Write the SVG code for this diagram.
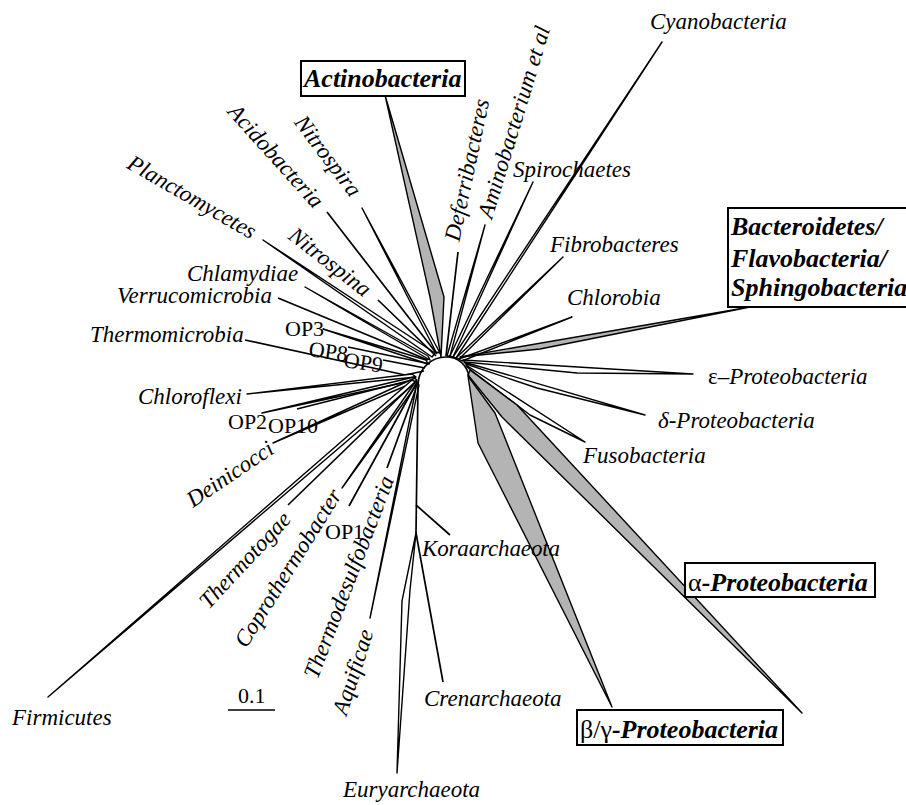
<svg xmlns="http://www.w3.org/2000/svg" width="906" height="805" viewBox="0 0 906 805" font-family="'Liberation Serif', 'DejaVu Serif', serif">
<style>
text{font-family:'Liberation Serif','DejaVu Serif',serif;fill:#000}
.i{font-style:italic;font-size:23px}
.r{font-size:22px}
.b{font-style:italic;font-weight:bold;font-size:26px}
.c{text-anchor:middle;dominant-baseline:central}
.l{fill:none;stroke:#000;stroke-width:1.7;stroke-linejoin:round}
.w{fill:#fff;stroke:#000;stroke-width:1.4;stroke-linejoin:round}
.g{fill:#b4b4b4;stroke:#000;stroke-width:1.4;stroke-linejoin:round}
.box{fill:#fff;stroke:#000;stroke-width:2}
</style>
<rect width="906" height="805" fill="#fff"/>
<g id="connectors">
<polygon class="w" points="362,208 436,352 440,353"/>
<line class="l" x1="327" y1="212" x2="437" y2="354"/>
<polygon class="w" points="263,240 432,357 435,353"/>
<line class="l" x1="378" y1="300" x2="436" y2="356"/>
<polygon class="w" points="305,287 428,356 430,360"/>
<line class="l" x1="278" y1="298" x2="428" y2="360"/>
<polygon class="w" points="323,329 426,360 428,364"/>
<line class="l" x1="348" y1="347" x2="430" y2="364"/>
<line class="l" x1="383" y1="360" x2="425" y2="368"/>
<polyline class="l" points="245,340 405,375 424,371"/>
<polygon class="w" points="247,394 412,374 416,377"/>
<polygon class="w" points="262,413 414,377 416,380"/>
<line class="l" x1="297" y1="409" x2="416" y2="379"/>
<polygon class="w" points="273,443 415,378 417,381"/>
<polygon class="w" points="48,697 412,380 416,382"/>
<line class="l" x1="288" y1="505" x2="416" y2="381"/>
<polygon class="w" points="342,488 416,381 418,383"/>
<line class="l" x1="349" y1="506" x2="417" y2="382"/>
<line class="l" x1="387" y1="468" x2="418" y2="383"/>
<polygon class="w" points="370,618 417,383 419,385"/>
<polygon class="g" points="385,95 444,297 441,357 430,297"/>
<line class="l" x1="458" y1="252" x2="446" y2="356"/>
<polygon class="w" points="485,225 447,356 450,356"/>
<polygon class="w" points="533,182 450,356 453,357"/>
<polygon class="w" points="662,42 453,357 456,358"/>
<polygon class="w" points="563,257 456,358 459,359"/>
<polygon class="w" points="572,317 459,359 462,361"/>
<polygon class="g" points="460,357 750,307 540,349"/>
<polygon class="w" points="463,360 693,374 577,373 465,362"/>
<polygon class="w" points="464,362 645,415 537,388 466,364"/>
<polygon class="w" points="466,365 585,442 530,415 467,367"/>
<polygon class="g" points="470,370 517,405 802,713 502,417 468,375"/>
<polygon class="g" points="468,376 495,413 612,707 478,443"/>
<path class="l" d="M416,533 L418,385 C418,368 432,357 446,357 C458,357 468,365 469,378"/>
<line class="l" x1="416" y1="505" x2="450" y2="535"/>
<line class="l" x1="416" y1="533" x2="443" y2="682"/>
<polygon class="w" points="416,533 402,601 397,773 410,590"/>
<line class="l" x1="228" y1="710" x2="275" y2="710"/>
</g>
<g id="n-actinobacteria"><rect class="box" x="301" y="61" width="164" height="35"/><text class="b" x="304" y="87">Actinobacteria</text></g>
<g id="n-bacteroidetes"><rect class="box" x="728" y="208" width="182" height="99"/><text class="b" x="731" y="235">Bacteroidetes/</text><text class="b" x="731" y="267">Flavobacteria/</text><text class="b" x="731" y="296">Sphingobacteria</text></g>
<g id="n-alpha"><rect class="box" x="685" y="563" width="190" height="34"/><text class="b" x="688" y="591"><tspan font-style="normal" font-weight="normal">α</tspan>-Proteobacteria</text></g>
<g id="n-betagamma"><rect class="box" x="577" y="710" width="206" height="35"/><text class="b" x="580" y="738"><tspan font-style="normal" font-weight="normal">β/γ</tspan>-Proteobacteria</text></g>
<g id="n-cyanobacteria"><text class="i" x="650" y="29">Cyanobacteria</text></g>
<g id="n-spirochaetes"><text class="i" x="513" y="177">Spirochaetes</text></g>
<g id="n-fibrobacteres"><text class="i" x="550" y="252">Fibrobacteres</text></g>
<g id="n-chlorobia"><text class="i" x="567" y="305">Chlorobia</text></g>
<g id="n-epsilon"><text class="i" x="708" y="384"><tspan font-style="normal">ε</tspan>–Proteobacteria</text></g>
<g id="n-delta"><text class="i" x="658" y="428">δ-Proteobacteria</text></g>
<g id="n-fusobacteria"><text class="i" x="583" y="463">Fusobacteria</text></g>
<g id="n-koraarchaeota"><text class="i" x="422" y="556" textLength="138" lengthAdjust="spacing">Koraarchaeota</text></g>
<g id="n-crenarchaeota"><text class="i" x="424" y="706">Crenarchaeota</text></g>
<g id="n-euryarchaeota"><text class="i" x="343" y="797">Euryarchaeota</text></g>
<g id="n-firmicutes"><text class="i" x="12" y="725">Firmicutes</text></g>
<g id="n-scale"><text class="r" x="238" y="703">0.1</text></g>
<g id="n-chlamydiae"><text class="i" x="187" y="281">Chlamydiae</text></g>
<g id="n-verrucomicrobia"><text class="i" x="117" y="303">Verrucomicrobia</text></g>
<g id="n-thermomicrobia"><text class="i" x="90" y="342">Thermomicrobia</text></g>
<g id="n-chloroflexi"><text class="i" x="138" y="404">Chloroflexi</text></g>
<g id="n-op3"><text class="r" x="285" y="336">OP3</text></g>
<g id="n-op8"><text class="r" transform="translate(308,356) rotate(8)">OP8</text></g>
<g id="n-op9"><text class="r" transform="translate(343,367) rotate(8)">OP9</text></g>
<g id="n-op2"><text class="r" x="228" y="429">OP2</text></g>
<g id="n-op10"><text class="r" x="268" y="433">OP10</text></g>
<g id="n-op1"><text class="r" x="325" y="539">OP1</text></g>
<g id="n-nitrospira"><text class="i c" transform="translate(328,156) rotate(53)">Nitrospira</text></g>
<g id="n-acidobacteria"><text class="i c" transform="translate(276,156) rotate(48)">Acidobacteria</text></g>
<g id="n-planctomycetes"><text class="i c" transform="translate(192,197) rotate(30)">Planctomycetes</text></g>
<g id="n-nitrospina"><text class="i c" transform="translate(330,262) rotate(38)">Nitrospina</text></g>
<g id="n-deinicocci"><text class="i c" transform="translate(230,474) rotate(-34)">Deinicocci</text></g>
<g id="n-thermotogae"><text class="i c" transform="translate(245,560) rotate(-47)">Thermotogae</text></g>
<g id="n-coprothermobacter"><text class="i c" transform="translate(288,568) rotate(-58)">Coprothermobacter</text></g>
<g id="n-thermodesulfobacteria"><text class="i c" transform="translate(349,577) rotate(-69)">Thermodesulfobacteria</text></g>
<g id="n-aquificae"><text class="i c" transform="translate(353,672) rotate(-72)">Aquificae</text></g>
<g id="n-deferribacteres"><text class="i c" transform="translate(467,170) rotate(-78)">Deferribacteres</text></g>
<g id="n-aminobacterium"><text class="i c" transform="translate(514,122) rotate(-73)">Aminobacterium et al</text></g>
</svg>
